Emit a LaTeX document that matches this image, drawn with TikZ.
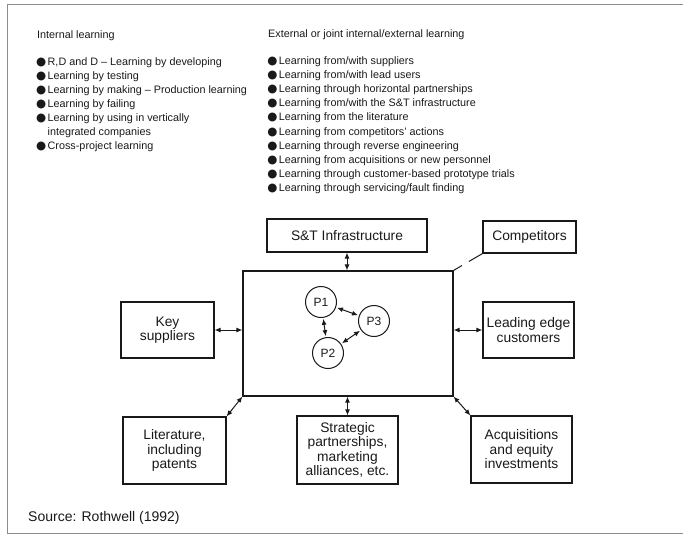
\documentclass[tikz,border=0pt]{standalone}
\usepackage{fontspec}
\setmainfont{Liberation Sans}
\newfontfamily\symfont{DejaVu Sans}
\usetikzlibrary{arrows.meta,calc}
\definecolor{ink}{RGB}{25,25,25}
\definecolor{rim}{RGB}{140,140,140}
\newcommand{\bul}{\makebox[11.5pt][l]{\symfont\fontsize{11.6}{14}\selectfont ●}}

\begin{document}
\begin{tikzpicture}[x=1pt,y=-1pt,
  >={Latex[length=6pt,width=5pt]},
  heading/.style={font=\fontsize{10.8}{14}\selectfont,text=ink,anchor=base west,inner sep=0pt},
  item/.style={heading},
  block/.style={draw=ink,line width=1.1pt,align=center,inner sep=2pt,
                font=\fontsize{13.8}{14.5}\selectfont,text=ink},
  proj/.style={circle,draw=ink,line width=1pt,minimum size=31pt,inner sep=0pt,
               font=\fontsize{12}{12}\selectfont,text=ink},
  link/.style={<->,ink,line width=1pt},
  note/.style={font=\fontsize{14}{16}\selectfont,text=ink,anchor=base west,inner sep=0pt}
]
\useasboundingbox (0,0) rectangle (683,536);
% Outer frame runs off the right edge of the page.
\draw[rim,line width=0.9pt] (700,4) -- (7,4) -- (7,533.5) -- (700,533.5);

% Two lists of learning modes.
\node[heading] (inthead) at (37,38) {Internal learning};
\foreach \ln/\txt in {0/{\bul R,D and D -- Learning by developing},
                      1/{\bul Learning by testing},
                      2/{\bul Learning by making -- Production learning},
                      3/{\bul Learning by failing},
                      4/{\bul Learning by using in vertically},
                      5/{\hspace*{11.5pt}integrated companies},
                      6/{\bul Cross-project learning}}
  \node[item] (int\ln) at (36,65+14*\ln) {\txt};

\node[heading] (exthead) at (268,37.5) {External or joint internal/external learning};
\foreach \txt [count=\k from 0] in {Learning from/with suppliers,
                                    Learning from/with lead users,
                                    Learning through horizontal partnerships,
                                    Learning from/with the S\&T infrastructure,
                                    Learning from the literature,
                                    Learning from competitors' actions,
                                    Learning through reverse engineering,
                                    Learning from acquisitions or new personnel,
                                    Learning through customer-based prototype trials,
                                    Learning through servicing/fault finding}
  \node[item] (ext\k) at (267.2,64.5+14.1*\k) {\bul\txt};

% The firm and its sources of knowledge.
\node[block,minimum width=210pt,minimum height=125pt] (firm) at (348,333.5) {};
\node[block,minimum width=160pt,minimum height=33pt] (infra) at (347,235.5) {S\&T Infrastructure};
\node[block,minimum width=93pt,minimum height=32pt] (comp) at (529.5,237) {Competitors};
\node[block,minimum width=93pt,minimum height=56pt] (keysup) at (167.5,330) {Key\\suppliers};
\node[block,minimum width=91pt,minimum height=56pt] (lead) at (528.5,330) {Leading edge\\customers};
\node[block,minimum width=103pt,minimum height=67pt] (lit) at (174.5,450.5) {Literature,\\including\\patents};
\node[block,minimum width=101pt,minimum height=68pt] (strat) at (347.5,450) {Strategic\\partnerships,\\marketing\\alliances, etc.};
\node[block,minimum width=101pt,minimum height=67pt] (acq) at (521.5,449.5) {Acquisitions\\and equity\\investments};

\node[proj] (p1) at (321,302) {P1};
\node[proj] (p3) at (374,321) {P3};
\node[proj] (p2) at (328,353) {P2};
\draw[link,shorten <=1pt,shorten >=1pt] (p1) -- (p2);
\draw[link,shorten <=1pt,shorten >=1pt] (p1) -- (p3);
\draw[link,shorten <=1pt,shorten >=1pt] (p2) -- (p3);

\draw[link] (infra.south) -- (infra.south |- firm.north);
\draw[link] (keysup.east) -- (keysup.east -| firm.west);
\draw[link] (firm.east |- lead.west) -- (lead.west);
\draw[link] (firm.south west) -- (lit.north east);
\draw[link] (strat.north |- firm.south) -- (strat.north);
\draw[link] (firm.south east) -- (acq.north west);
% Broken line to the competitors.
\draw[ink,line width=1pt] (firm.north east) -- ($(firm.north east)!0.29!(comp.south west)$)
  ($(firm.north east)!0.53!(comp.south west)$) -- (comp.south west);

\node[note] (source) at (28,521) {Source: Rothwell (1992)};
\end{tikzpicture}
\end{document}
